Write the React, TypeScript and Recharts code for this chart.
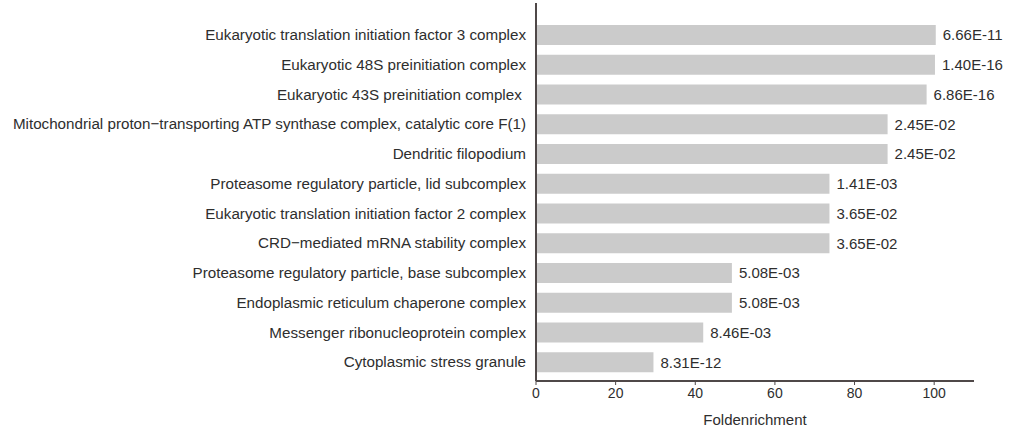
import React from 'react';
import { BarChart, Bar, XAxis, YAxis, LabelList } from 'recharts';

const terms: string[] = [
  'Eukaryotic translation initiation factor 3 complex',
  'Eukaryotic 48S preinitiation complex',
  'Eukaryotic 43S preinitiation complex ',
  'Mitochondrial proton\u2212transporting ATP synthase complex, catalytic core F(1)',
  'Dendritic filopodium',
  'Proteasome regulatory particle, lid subcomplex',
  'Eukaryotic translation initiation factor 2 complex',
  'CRD\u2212mediated mRNA stability complex',
  'Proteasome regulatory particle, base subcomplex',
  'Endoplasmic reticulum chaperone complex',
  'Messenger ribonucleoprotein complex',
  'Cytoplasmic stress granule',
];

const foldEnrichment: number[] = [
  100.4, 100.2, 98.1, 88.3, 88.3, 73.7, 73.7, 73.7, 49.2, 49.2, 42.0, 29.5,
];

const pValues: string[] = [
  '6.66E-11', '1.40E-16', '6.86E-16', '2.45E-02', '2.45E-02', '1.41E-03',
  '3.65E-02', '3.65E-02', '5.08E-03', '5.08E-03', '8.46E-03', '8.31E-12',
];

const xTicks: number[] = [0, 20, 40, 60, 80, 100];

const data = terms.map((term, i) => ({
  term,
  fold: foldEnrichment[i],
  p: pValues[i],
}));

const FONT = '"Liberation Sans", Arial, Helvetica, sans-serif';
const TEXT = '#2e2e2e';
const AXIS = '#4f4848';

// Category labels keep their trailing whitespace
const TermTick = (props: any) => {
  const { x, y, payload } = props;
  return (
    <text
      x={x}
      y={y}
      dy="0.35em"
      textAnchor="end"
      fontSize={15.2}
      fill={TEXT}
      fontFamily={FONT}
      xmlSpace="preserve"
      style={{ whiteSpace: 'pre' }}
    >
      {payload.value}
    </text>
  );
};

export default function App() {
  return (
    <div style={{ position: 'absolute', left: 0, top: 0, background: '#fff' }}>
      <BarChart
        width={1018}
        height={434}
        data={data}
        layout="vertical"
        margin={{ top: 3, right: 44, bottom: 0, left: 0 }}
        style={{ fontFamily: FONT }}
      >
        <XAxis
          type="number"
          dataKey="fold"
          domain={[0, 110]}
          ticks={xTicks}
          allowDataOverflow
          height={53}
          tickSize={4}
          tickMargin={3}
          axisLine={{ stroke: AXIS, strokeWidth: 2 }}
          tickLine={{ stroke: AXIS }}
          tick={{ fontSize: 14, fill: TEXT, fontFamily: FONT }}
          label={{
            value: 'Foldenrichment',
            position: 'insideBottom',
            offset: 9,
            fontSize: 15,
            fill: TEXT,
            fontFamily: FONT,
          }}
        />
        <YAxis
          type="category"
          dataKey="term"
          width={536}
          padding={{ top: 17, bottom: 4 }}
          tickSize={0}
          tickMargin={10}
          tickLine={false}
          axisLine={{ stroke: AXIS, strokeWidth: 2 }}
          tick={<TermTick />}
          interval={0}
        />
        <Bar dataKey="fold" fill="#cbcbcb" barSize={20} isAnimationActive={false}>
          <LabelList
            dataKey="p"
            position="right"
            offset={7}
            fontSize={15}
            fill={TEXT}
            fontFamily={FONT}
          />
        </Bar>
      </BarChart>
    </div>
  );
}
